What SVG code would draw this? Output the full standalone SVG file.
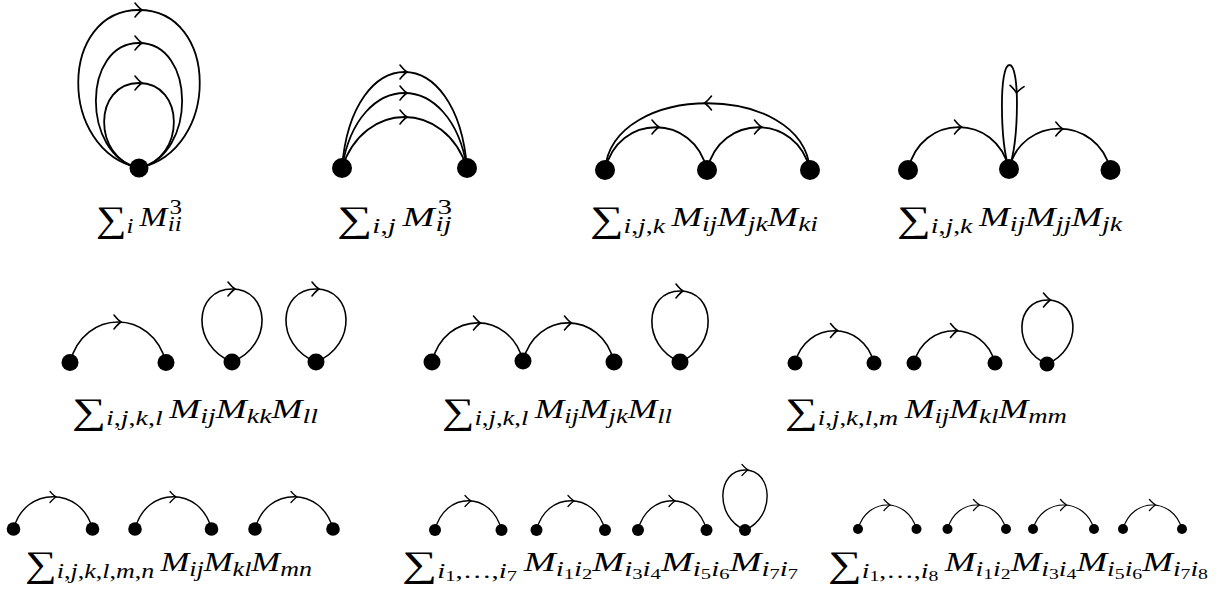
<svg xmlns="http://www.w3.org/2000/svg" width="1218" height="598" viewBox="0 0 1218 598">
<style>
.e{fill:none;stroke:#000;stroke-linecap:round}
.w1{stroke-width:1.8}.w2{stroke-width:1.6}.w3{stroke-width:1.4}.w4{stroke-width:1.2}
.n{fill:#000}
.t{font-family:"Liberation Serif","Times New Roman",serif;font-size:28px;font-style:italic;fill:#000}
.g{font-size:36px;font-style:normal}
.s{font-size:21px}
.ss{font-size:15px}
.u{font-style:normal}
</style>
<defs>
<path id="ah" d="M-7,-7 Q-2.5,-1.5 0,0 Q-2.5,1.5 -7,7" fill="none" stroke="#000" stroke-width="1.6" stroke-linecap="round"/>
<path id="ahs" d="M-6,-5.5 Q-2,-1.2 0,0 Q-2,1.2 -6,5.5" fill="none" stroke="#000" stroke-width="1.3" stroke-linecap="round"/>
</defs>
<rect width="1218" height="598" fill="#fff"/>
<g id="connectors" class="e">
<path class="w1" d="M139,168 C57,150 59,10 139,10 C219,10 221,150 139,168"/>
<path class="w1" d="M139,168 C81,155 82,43 139,43 C196,43 197,155 139,168"/>
<path class="w1" d="M139,168 C92,158 93,83 139,83 C185,83 186,158 139,168"/>
<use href="#ah" transform="translate(142,10)"/>
<use href="#ah" transform="translate(142,43)"/>
<use href="#ah" transform="translate(142,83)"/>
<path class="w1" d="M342,168 C352,40 457,40 467,168"/>
<path class="w1" d="M342,168 C358,68 451,68 467,168"/>
<path class="w1" d="M342,168 C364,100 445,100 467,168"/>
<use href="#ah" transform="translate(407,72)"/>
<use href="#ah" transform="translate(407,93)"/>
<use href="#ah" transform="translate(407,117)"/>
<path class="w1" d="M605,170 C612,81 803,81 810,170"/>
<path class="w1" d="M605,170 C618,113 694,113 707,170"/>
<path class="w1" d="M707,170 C720,113 797,113 810,170"/>
<use href="#ah" transform="translate(704.5,103) rotate(180)"/>
<use href="#ah" transform="translate(659,127)"/>
<use href="#ah" transform="translate(761.5,127)"/>
<path class="w1" d="M908,170 C921,113 996,113 1009,169"/>
<path class="w1" d="M1009,169 C1022,115 1097,115 1110.5,170"/>
<path class="w1" d="M1009,169 C1000,140 999,65 1009.5,65 C1020,65 1019,140 1009,169"/>
<use href="#ah" transform="translate(961.5,127)"/>
<use href="#ah" transform="translate(1062.8,129)"/>
<use href="#ah" transform="translate(1016.5,93) rotate(95)"/>
<path class="w2" d="M70,362.5 C84,308.5 152,308.5 166,362.5"/>
<path class="w2" d="M232,362 C190,345 194,289 232,289 C270,289 274,345 232,362"/>
<path class="w2" d="M316,362 C274,345 278,289 316,289 C354,289 358,345 316,362"/>
<use href="#ah" transform="translate(121,322)"/>
<use href="#ah" transform="translate(235,289)"/>
<use href="#ah" transform="translate(319,289)"/>
<path class="w2" d="M432,362 C445,310 510,310 523,361"/>
<path class="w2" d="M523,361 C536,310 601,310 614,362"/>
<path class="w2" d="M680,362 C641,346 644,291 680,291 C716,291 719,346 680,362"/>
<use href="#ah" transform="translate(480.5,323)"/>
<use href="#ah" transform="translate(571.5,323)"/>
<use href="#ah" transform="translate(683,291)"/>
<path class="w2" d="M795,363 C806,320 863,320 874,363"/>
<path class="w2" d="M914,363 C925,320 984,320 995,363"/>
<path class="w2" d="M1047,364 C1012,349 1015,300 1047.5,300 C1080,300 1083,349 1047,364"/>
<use href="#ah" transform="translate(837.5,330.5)"/>
<use href="#ah" transform="translate(957.5,330.5)"/>
<use href="#ah" transform="translate(1050.5,300)"/>
<path class="w3" d="M13.5,529 C24.5,486 81.5,486 92.5,529"/>
<path class="w3" d="M135,529 C146,486 200.5,486 211.5,529"/>
<path class="w3" d="M255,529 C266,486 322,486 333,529"/>
<use href="#ahs" transform="translate(56,497)"/>
<use href="#ahs" transform="translate(176,497)"/>
<use href="#ahs" transform="translate(297,497)"/>
<path class="w3" d="M435,530 C445,491 491.5,491 501.5,530"/>
<path class="w3" d="M536.5,530 C546.5,491 595,491 605,530"/>
<path class="w3" d="M638,530 C648,491 696.5,491 706.5,530"/>
<path class="w3" d="M745,530 C714,517 717,470 745,470 C773,470 776,517 745,530"/>
<use href="#ahs" transform="translate(471,501)"/>
<use href="#ahs" transform="translate(574,501)"/>
<use href="#ahs" transform="translate(675,501)"/>
<use href="#ahs" transform="translate(748,470)"/>
<path class="w4" d="M858,529 C867,497 907.5,497 916.5,529"/>
<path class="w4" d="M947.5,529 C956.5,497 997,497 1006,529"/>
<path class="w4" d="M1033,529 C1042,497 1085,497 1094,529"/>
<path class="w4" d="M1123,529 C1132,497 1173,497 1182,529"/>
<use href="#ahs" transform="translate(890,505)"/>
<use href="#ahs" transform="translate(979.5,505)"/>
<use href="#ahs" transform="translate(1066.5,505)"/>
<use href="#ahs" transform="translate(1155.5,505)"/>
</g>
<g id="r1d1-n1"><circle class="n" cx="139" cy="168" r="9.5"/></g>
<g id="r1d2-n1"><circle class="n" cx="342" cy="168" r="10"/></g>
<g id="r1d2-n2"><circle class="n" cx="467" cy="168" r="10"/></g>
<g id="r1d3-n1"><circle class="n" cx="605" cy="170" r="10"/></g>
<g id="r1d3-n2"><circle class="n" cx="707" cy="170" r="10"/></g>
<g id="r1d3-n3"><circle class="n" cx="810" cy="170" r="10"/></g>
<g id="r1d4-n1"><circle class="n" cx="908" cy="170" r="10"/></g>
<g id="r1d4-n2"><circle class="n" cx="1009" cy="169" r="10"/></g>
<g id="r1d4-n3"><circle class="n" cx="1110.5" cy="170" r="10"/></g>
<g id="r2d1-n1"><circle class="n" cx="70" cy="362.5" r="8.5"/></g>
<g id="r2d1-n2"><circle class="n" cx="166" cy="362.5" r="8.5"/></g>
<g id="r2d1-n3"><circle class="n" cx="232" cy="362" r="8.5"/></g>
<g id="r2d1-n4"><circle class="n" cx="316" cy="362" r="8.5"/></g>
<g id="r2d2-n1"><circle class="n" cx="432" cy="362" r="8.5"/></g>
<g id="r2d2-n2"><circle class="n" cx="523" cy="361" r="8.5"/></g>
<g id="r2d2-n3"><circle class="n" cx="614" cy="362" r="8.5"/></g>
<g id="r2d2-n4"><circle class="n" cx="680" cy="362" r="8.5"/></g>
<g id="r2d3-n1"><circle class="n" cx="795" cy="363" r="7.5"/></g>
<g id="r2d3-n2"><circle class="n" cx="874" cy="363" r="7.5"/></g>
<g id="r2d3-n3"><circle class="n" cx="914" cy="363" r="7.5"/></g>
<g id="r2d3-n4"><circle class="n" cx="995" cy="363" r="7.5"/></g>
<g id="r2d3-n5"><circle class="n" cx="1047" cy="364" r="7.5"/></g>
<g id="r3d1-n1"><circle class="n" cx="13.5" cy="529" r="6.8"/></g>
<g id="r3d1-n2"><circle class="n" cx="92.5" cy="529" r="6.8"/></g>
<g id="r3d1-n3"><circle class="n" cx="135" cy="529" r="6.8"/></g>
<g id="r3d1-n4"><circle class="n" cx="211.5" cy="529" r="6.8"/></g>
<g id="r3d1-n5"><circle class="n" cx="255" cy="529" r="6.8"/></g>
<g id="r3d1-n6"><circle class="n" cx="333" cy="529" r="6.8"/></g>
<g id="r3d2-n1"><circle class="n" cx="435" cy="530" r="6"/></g>
<g id="r3d2-n2"><circle class="n" cx="501.5" cy="530" r="6"/></g>
<g id="r3d2-n3"><circle class="n" cx="536.5" cy="530" r="6"/></g>
<g id="r3d2-n4"><circle class="n" cx="605" cy="530" r="6"/></g>
<g id="r3d2-n5"><circle class="n" cx="638" cy="530" r="6"/></g>
<g id="r3d2-n6"><circle class="n" cx="706.5" cy="530" r="6"/></g>
<g id="r3d2-n7"><circle class="n" cx="745" cy="530" r="6"/></g>
<g id="r3d3-n1"><circle class="n" cx="858" cy="529" r="5"/></g>
<g id="r3d3-n2"><circle class="n" cx="916.5" cy="529" r="5"/></g>
<g id="r3d3-n3"><circle class="n" cx="947.5" cy="529" r="5"/></g>
<g id="r3d3-n4"><circle class="n" cx="1006" cy="529" r="5"/></g>
<g id="r3d3-n5"><circle class="n" cx="1033" cy="529" r="5"/></g>
<g id="r3d3-n6"><circle class="n" cx="1094" cy="529" r="5"/></g>
<g id="r3d3-n7"><circle class="n" cx="1123" cy="529" r="5"/></g>
<g id="r3d3-n8"><circle class="n" cx="1182" cy="529" r="5"/></g>
<g id="labels">
<text class="t" x="96" y="226" textLength="86" lengthAdjust="spacingAndGlyphs"><tspan class="g" dy="5">∑</tspan><tspan class="s" dy="2">i</tspan><tspan dy="-7" dx="5">M</tspan><tspan class="s u" dy="-12" dx="2">3</tspan><tspan class="s" dx="-12" dy="17">ii</tspan></text>
<text class="t" x="337" y="226" textLength="115" lengthAdjust="spacingAndGlyphs"><tspan class="g" dy="5">∑</tspan><tspan class="s" dy="2">i<tspan class="u">,</tspan>j</tspan><tspan dy="-7" dx="5">M</tspan><tspan class="s u" dy="-12" dx="2">3</tspan><tspan class="s" dx="-12" dy="17">ij</tspan></text>
<text class="t" x="590" y="226" textLength="228" lengthAdjust="spacingAndGlyphs"><tspan class="g" dy="5">∑</tspan><tspan class="s" dy="2">i<tspan class="u">,</tspan>j<tspan class="u">,</tspan>k</tspan><tspan dy="-7" dx="5">M</tspan><tspan class="s" dy="5">ij</tspan><tspan dy="-5">M</tspan><tspan class="s" dy="5">jk</tspan><tspan dy="-5">M</tspan><tspan class="s" dy="5">ki</tspan></text>
<text class="t" x="897" y="226" textLength="225" lengthAdjust="spacingAndGlyphs"><tspan class="g" dy="5">∑</tspan><tspan class="s" dy="2">i<tspan class="u">,</tspan>j<tspan class="u">,</tspan>k</tspan><tspan dy="-7" dx="5">M</tspan><tspan class="s" dy="5">ij</tspan><tspan dy="-5">M</tspan><tspan class="s" dy="5">jj</tspan><tspan dy="-5">M</tspan><tspan class="s" dy="5">jk</tspan></text>
<text class="t" x="72" y="418" textLength="246" lengthAdjust="spacingAndGlyphs"><tspan class="g" dy="5">∑</tspan><tspan class="s" dy="2">i<tspan class="u">,</tspan>j<tspan class="u">,</tspan>k<tspan class="u">,</tspan>l</tspan><tspan dy="-7" dx="5">M</tspan><tspan class="s" dy="5">ij</tspan><tspan dy="-5">M</tspan><tspan class="s" dy="5">kk</tspan><tspan dy="-5">M</tspan><tspan class="s" dy="5">ll</tspan></text>
<text class="t" x="442" y="418" textLength="230" lengthAdjust="spacingAndGlyphs"><tspan class="g" dy="5">∑</tspan><tspan class="s" dy="2">i<tspan class="u">,</tspan>j<tspan class="u">,</tspan>k<tspan class="u">,</tspan>l</tspan><tspan dy="-7" dx="5">M</tspan><tspan class="s" dy="5">ij</tspan><tspan dy="-5">M</tspan><tspan class="s" dy="5">jk</tspan><tspan dy="-5">M</tspan><tspan class="s" dy="5">ll</tspan></text>
<text class="t" x="785" y="418" textLength="282" lengthAdjust="spacingAndGlyphs"><tspan class="g" dy="5">∑</tspan><tspan class="s" dy="2">i<tspan class="u">,</tspan>j<tspan class="u">,</tspan>k<tspan class="u">,</tspan>l<tspan class="u">,</tspan>m</tspan><tspan dy="-7" dx="5">M</tspan><tspan class="s" dy="5">ij</tspan><tspan dy="-5">M</tspan><tspan class="s" dy="5">kl</tspan><tspan dy="-5">M</tspan><tspan class="s" dy="5">mm</tspan></text>
<text class="t" x="25" y="571" textLength="287" lengthAdjust="spacingAndGlyphs"><tspan class="g" dy="5">∑</tspan><tspan class="s" dy="2">i<tspan class="u">,</tspan>j<tspan class="u">,</tspan>k<tspan class="u">,</tspan>l<tspan class="u">,</tspan>m<tspan class="u">,</tspan>n</tspan><tspan dy="-7" dx="5">M</tspan><tspan class="s" dy="5">ij</tspan><tspan dy="-5">M</tspan><tspan class="s" dy="5">kl</tspan><tspan dy="-5">M</tspan><tspan class="s" dy="5">mn</tspan></text>
<text class="t" x="402" y="571" textLength="396" lengthAdjust="spacingAndGlyphs"><tspan class="g" dy="5">∑</tspan><tspan class="s" dy="2">i</tspan><tspan class="ss u" dy="3">1</tspan><tspan class="s u" dy="-3">,…,</tspan><tspan class="s">i</tspan><tspan class="ss u" dy="3">7</tspan><tspan dy="-10" dx="5">M</tspan><tspan class="s" dy="5">i</tspan><tspan class="ss u" dy="3">1</tspan><tspan class="s" dy="-3">i</tspan><tspan class="ss u" dy="3">2</tspan><tspan dy="-8">M</tspan><tspan class="s" dy="5">i</tspan><tspan class="ss u" dy="3">3</tspan><tspan class="s" dy="-3">i</tspan><tspan class="ss u" dy="3">4</tspan><tspan dy="-8">M</tspan><tspan class="s" dy="5">i</tspan><tspan class="ss u" dy="3">5</tspan><tspan class="s" dy="-3">i</tspan><tspan class="ss u" dy="3">6</tspan><tspan dy="-8">M</tspan><tspan class="s" dy="5">i</tspan><tspan class="ss u" dy="3">7</tspan><tspan class="s" dy="-3">i</tspan><tspan class="ss u" dy="3">7</tspan></text>
<text class="t" x="828" y="571" textLength="380" lengthAdjust="spacingAndGlyphs"><tspan class="g" dy="5">∑</tspan><tspan class="s" dy="2">i</tspan><tspan class="ss u" dy="3">1</tspan><tspan class="s u" dy="-3">,…,</tspan><tspan class="s">i</tspan><tspan class="ss u" dy="3">8</tspan><tspan dy="-10" dx="5">M</tspan><tspan class="s" dy="5">i</tspan><tspan class="ss u" dy="3">1</tspan><tspan class="s" dy="-3">i</tspan><tspan class="ss u" dy="3">2</tspan><tspan dy="-8">M</tspan><tspan class="s" dy="5">i</tspan><tspan class="ss u" dy="3">3</tspan><tspan class="s" dy="-3">i</tspan><tspan class="ss u" dy="3">4</tspan><tspan dy="-8">M</tspan><tspan class="s" dy="5">i</tspan><tspan class="ss u" dy="3">5</tspan><tspan class="s" dy="-3">i</tspan><tspan class="ss u" dy="3">6</tspan><tspan dy="-8">M</tspan><tspan class="s" dy="5">i</tspan><tspan class="ss u" dy="3">7</tspan><tspan class="s" dy="-3">i</tspan><tspan class="ss u" dy="3">8</tspan></text>
</g>
</svg>
